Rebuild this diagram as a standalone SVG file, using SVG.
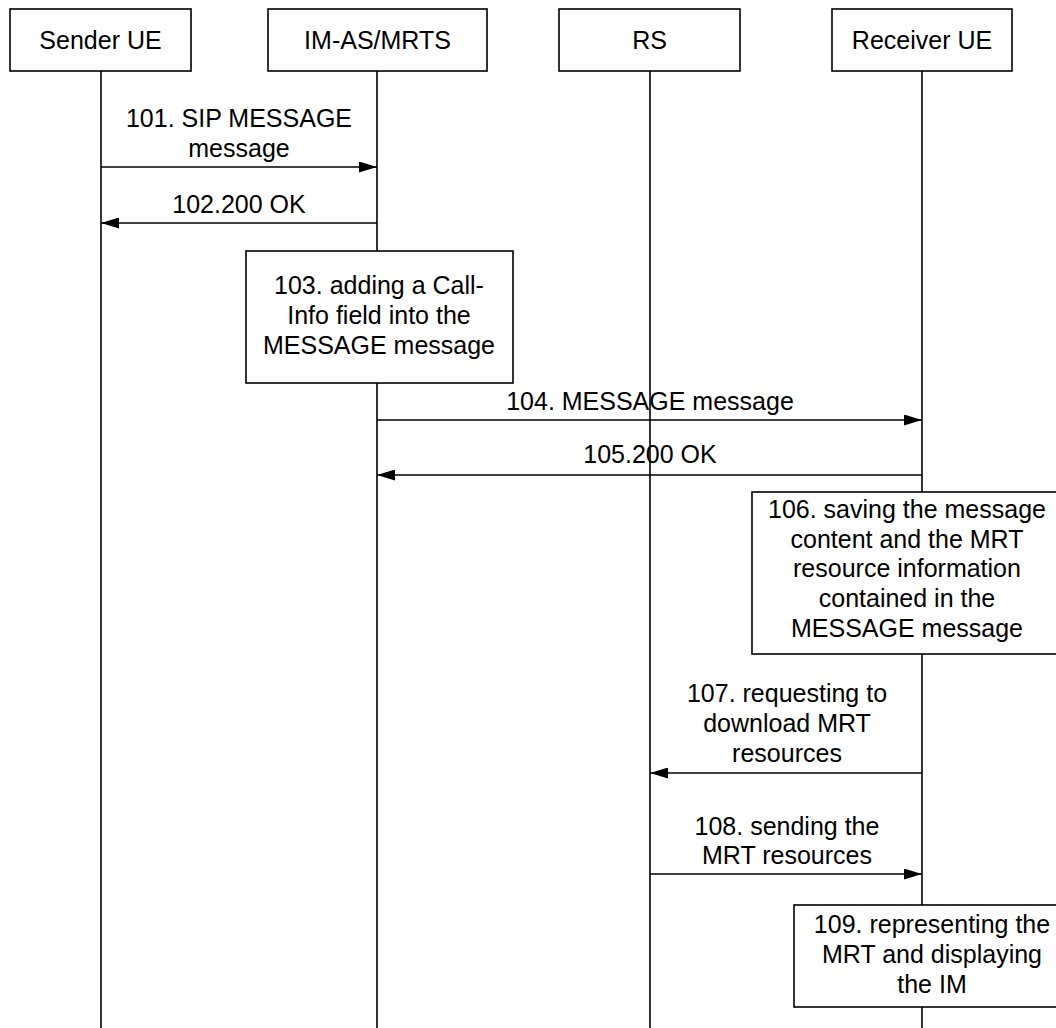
<svg xmlns="http://www.w3.org/2000/svg" width="1056" height="1028" viewBox="0 0 1056 1028">
<style>
text{font-family:"Liberation Sans",Arial,sans-serif;font-size:25px;fill:#000;text-anchor:middle}
.box{fill:#fff;stroke:#000;stroke-width:1.6}
.life{stroke:#000;stroke-width:1.6;fill:none}
.msg{stroke:#000;stroke-width:1.6;fill:none;marker-end:url(#ah)}
</style>
<defs>
<marker id="ah" viewBox="0 0 18 11" refX="18" refY="5.5" markerWidth="18" markerHeight="11" markerUnits="userSpaceOnUse" orient="auto">
<path d="M0,0 L18,5.5 L0,11 Z" fill="#000"/>
</marker>
</defs>
<g id="lifelines">
<line class="life" x1="101" y1="71" x2="101" y2="1028"/>
<line class="life" x1="377" y1="71" x2="377" y2="1028"/>
<line class="life" x1="650" y1="71" x2="650" y2="1028"/>
<line class="life" x1="922" y1="71" x2="922" y2="1028"/>
</g>
<g id="sender-ue"><rect class="box" x="10" y="9" width="181" height="62"/><text x="100.5" y="49">Sender UE</text></g>
<g id="im-as-mrts"><rect class="box" x="268" y="9" width="219" height="62"/><text x="377.5" y="49">IM-AS/MRTS</text></g>
<g id="rs"><rect class="box" x="559" y="9" width="181" height="62"/><text x="649.5" y="49">RS</text></g>
<g id="receiver-ue"><rect class="box" x="832" y="9" width="180" height="62"/><text x="922" y="49">Receiver UE</text></g>
<g id="connectors">
<line class="msg" x1="101" y1="167" x2="377" y2="167"/>
<line class="msg" x1="377" y1="223" x2="101" y2="223"/>
<line class="msg" x1="377" y1="420" x2="922" y2="420"/>
<line class="msg" x1="922" y1="475" x2="377" y2="475"/>
<line class="msg" x1="922" y1="773" x2="650" y2="773"/>
<line class="msg" x1="650" y1="874" x2="922" y2="874"/>
</g>
<g id="labels">
<text x="239" y="127">101. SIP MESSAGE</text>
<text x="239" y="157">message</text>
<text x="239" y="213">102.200 OK</text>
<text x="650" y="410">104. MESSAGE message</text>
<text x="650" y="463">105.200 OK</text>
<text x="787" y="702">107. requesting to</text>
<text x="787" y="732">download MRT</text>
<text x="787" y="762">resources</text>
<text x="787" y="835">108. sending the</text>
<text x="787" y="864">MRT resources</text>
</g>
<g id="step-103"><rect class="box" x="246" y="251" width="267" height="132"/>
<text x="379" y="294">103. adding a Call-</text>
<text x="379" y="324">Info field into the</text>
<text x="379" y="354">MESSAGE message</text></g>
<g id="step-106"><rect class="box" x="752" y="492" width="312" height="162"/>
<text x="907" y="518">106. saving the message</text>
<text x="907" y="548">content and the MRT</text>
<text x="907" y="577">resource information</text>
<text x="907" y="607">contained in the</text>
<text x="907" y="637">MESSAGE message</text></g>
<g id="step-109"><rect class="box" x="794" y="905" width="280" height="102"/>
<text x="932" y="933">109. representing the</text>
<text x="932" y="963">MRT and displaying</text>
<text x="932" y="993">the IM</text></g>
</svg>
